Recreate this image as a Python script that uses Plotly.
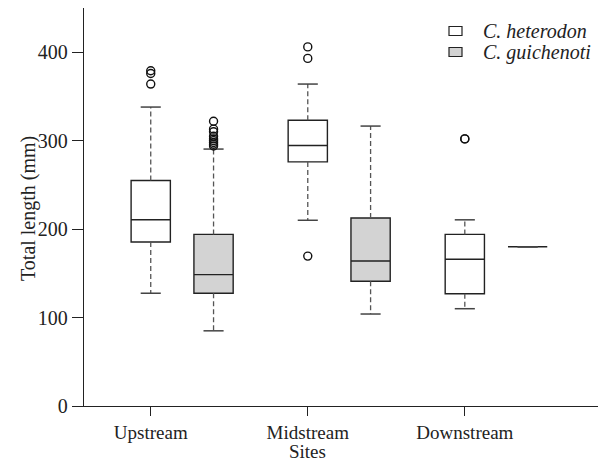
import plotly.graph_objects as go

sites = ["Upstream", "Midstream", "Downstream"]
species = ["C. heterodon", "C. guichenoti"]

het_q1 = [185.5, 276, 127]
het_med = [210.5, 294.5, 166]
het_q3 = [255, 323, 194]
het_lo = [127.5, 210, 110]
het_hi = [338, 364, 210.5]
het_out = [[379, 376, 364], [406, 393, 169.5], [302, 302]]

gui_q1 = [127.5, 141, 180]
gui_med = [148.5, 164, 180]
gui_q3 = [194, 212.5, 180]
gui_lo = [85, 104, 180]
gui_hi = [290.5, 316.5, 180]
gui_out = [[322, 313, 310, 305, 302, 300, 298, 296, 294], [], []]

site_pos = [0, 1, 2]
offset = 0.4
box_w = 0.25
cap_half = 0.064

FONT = "Liberation Serif"
LINE = "#222222"
WH = "#555555"
FILLS = ["white", "#d3d3d3"]

fig = go.Figure()

groups = [
    (species[0], [p for p in site_pos], het_q1, het_med, het_q3, het_lo, het_hi, het_out, FILLS[0]),
    (species[1], [p + offset for p in site_pos], gui_q1, gui_med, gui_q3, gui_lo, gui_hi, gui_out, FILLS[1]),
]

for name, pos, q1, med, q3, lo, hi, outs, fillc in groups:
    wx, wy = [], []
    for p, a, b, c, d in zip(pos, q1, q3, lo, hi):
        wx += [p, p, None, p, p, None]
        wy += [b, d, None, a, c, None]
    fig.add_trace(go.Scatter(x=wx, y=wy, mode="lines", showlegend=False, hoverinfo="skip",
                             line=dict(color=WH, width=1.3, dash="5px,3px")))
    cx, cy = [], []
    for p, c, d in zip(pos, lo, hi):
        cx += [p - cap_half, p + cap_half, None, p - cap_half, p + cap_half, None]
        cy += [d, d, None, c, c, None]
    fig.add_trace(go.Scatter(x=cx, y=cy, mode="lines", showlegend=False, hoverinfo="skip",
                             line=dict(color="#444444", width=1.5)))
    fig.add_trace(go.Box(x=pos, q1=q1, median=med, q3=q3, lowerfence=q1, upperfence=q3,
                         width=box_w, whiskerwidth=0, fillcolor=fillc, boxpoints=False,
                         line=dict(color=LINE, width=1.4), showlegend=False, name=name))
    ox, oy = [], []
    for p, o in zip(pos, outs):
        ox += [p] * len(o)
        oy += o
    fig.add_trace(go.Scatter(x=ox, y=oy, mode="markers", showlegend=False,
                             marker=dict(symbol="circle-open", size=8, color="#111111",
                                         line=dict(width=1.4, color="#111111"))))

# page coordinates of the plot frame (the page body has an 8px margin)
plot_l, plot_r, plot_t, plot_b = 84, 603, 8, 406
W, H = plot_r - plot_l, plot_b - plot_t
def px(x):
    return (x - plot_l) / W
def py(y):
    return (plot_b - y) / H

leg_rows = [31, 52]
for i, (name, fillc) in enumerate(zip(species, FILLS)):
    yc = leg_rows[i]
    fig.add_shape(type="rect", xref="paper", yref="paper",
                  x0=px(449), x1=px(462), y0=py(yc + 4.5), y1=py(yc - 4.5),
                  fillcolor=fillc, line=dict(color="#222222", width=1.2))
    fig.add_annotation(xref="paper", yref="paper", x=px(481), y=py(yc), xanchor="left",
                       yanchor="middle", text=f"<i>{name}</i>", showarrow=False,
                       font=dict(family=FONT, size=20, color="#222222"))

fig.add_annotation(xref="x", yref="paper", x=1, y=0, yanchor="bottom", yshift=-57, borderpad=0,
                   text="Sites", showarrow=False, font=dict(family=FONT, size=19, color="#222222"))
fig.add_annotation(xref="paper", yref="paper", x=0, y=py(209), xanchor="center", yanchor="middle",
                   xshift=-56, textangle=-90, text="Total length (mm)", showarrow=False,
                   font=dict(family=FONT, size=20, color="#222222"))

fig.update_layout(
    width=598, height=455,
    margin=dict(l=76, r=3, t=0, b=57, autoexpand=False),
    plot_bgcolor="white", paper_bgcolor="white",
    boxmode="overlay", showlegend=False,
    font=dict(family=FONT, size=20, color="#222222"),
    xaxis=dict(range=[-0.425, 2.88], tickvals=site_pos, ticktext=sites, showgrid=False,
               zeroline=False, showline=True, linecolor="#222222", linewidth=1.3, mirror=True,
               ticks="outside", ticklen=9, tickwidth=1.2, tickcolor="#222222", automargin=False,
               tickfont=dict(size=19)),
    yaxis=dict(range=[0, 450], tickvals=[0, 100, 200, 300, 400], showgrid=False,
               zeroline=False, showline=True, linecolor="#222222", linewidth=1.3, mirror=True,
               ticks="outside", ticklen=11, tickwidth=1.2, tickcolor="#222222", automargin=False),
)

fig.write_html("out.html")
